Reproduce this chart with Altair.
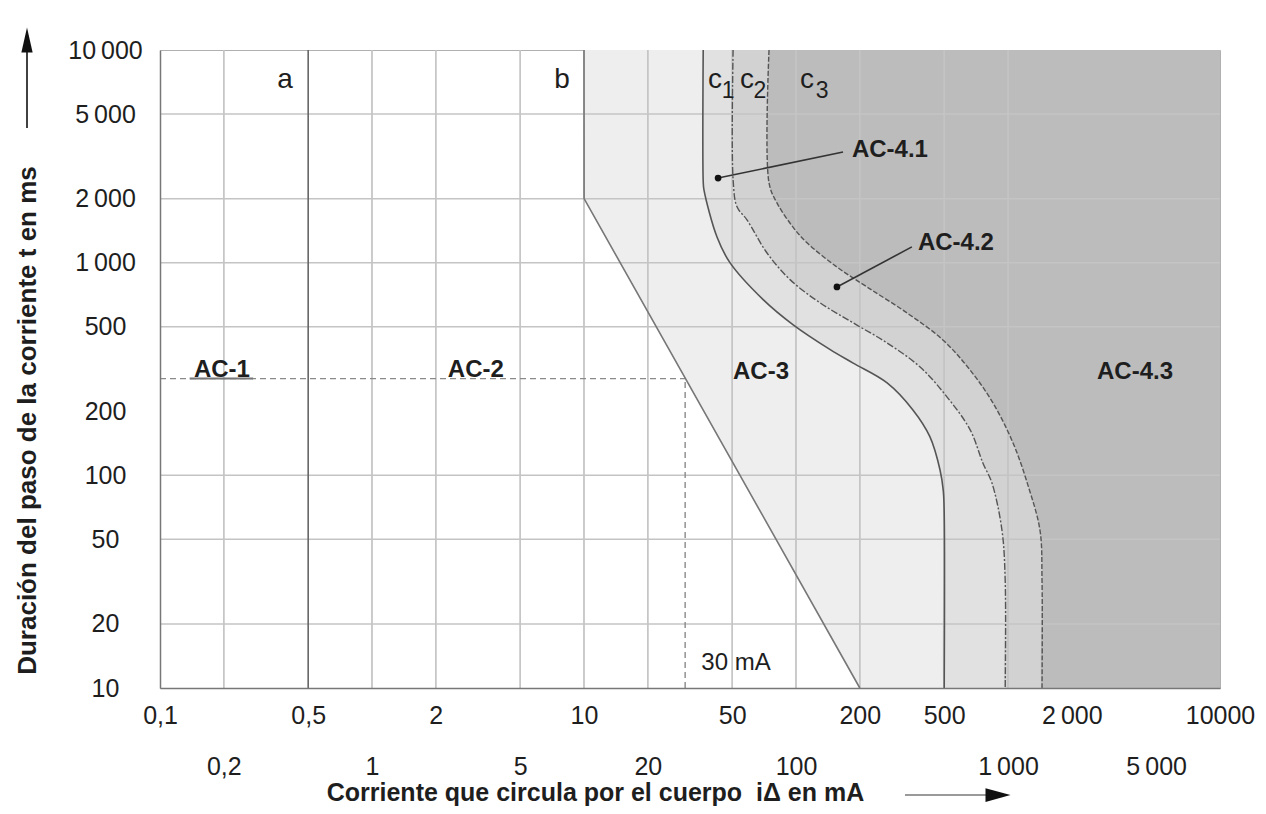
import altair as alt
import pandas as pd

FONT = "Liberation Sans"
TXT = "#1e1e1e"

# ---------------- axis ticks / labels ----------------
y_ticks = [10, 20, 50, 100, 200, 500, 1000, 2000, 5000, 10000]
y_tick_labels = ["10", "20", "50", "100", "200", "500", "1\u2009000", "2\u2009000", "5\u2009000", "10\u2009000"]
x_ticks_row1 = [0.1, 0.5, 2, 10, 50, 200, 500, 2000, 10000]
x_labels_row1 = ["0,1", "0,5", "2", "10", "50", "200", "500", "2\u2009000", "10000"]
x_ticks_row2 = [0.2, 1, 5, 20, 100, 1000, 5000]
x_labels_row2 = ["0,2", "1", "5", "20", "100", "1\u2009000", "5\u2009000"]

x_grid = [0.2, 1, 2, 5, 10, 20, 50, 100, 200, 500, 1000]
y_grid = [20, 50, 100, 500, 1000, 2000, 5000]

# ---------------- curves (current mA, time ms) ----------------
a_x = [0.5, 0.5]
a_t = [10000, 10]
b_x = [10, 10.01, 200]
b_t = [10000, 2000, 10]
c1_x = [36.5, 36.51, 36.8, 42.4, 48.8, 70, 97, 145, 186, 269, 356, 428, 478, 495, 500, 500.1]
c1_t = [10000, 2400, 2200, 1320, 1000, 670, 510, 390, 337, 272, 203, 152, 106, 85, 67, 10]
c2_x = [50.5, 50.51, 52.7, 58.7, 73, 94, 130, 186, 269, 385, 515, 662, 762, 840, 937, 970, 970.1]
c2_t = [10000, 2450, 1830, 1590, 1110, 830, 647, 521, 419, 323, 234, 164, 114, 92, 55, 32, 10]
c3_x = [74.6, 74.61, 81.3, 96.8, 112.7, 156, 216, 334, 493, 662, 849, 1056, 1250, 1416, 1447, 1447.1]
c3_t = [10000, 2370, 1910, 1470, 1240, 954, 769, 580, 433, 313, 219, 142, 88, 55, 32, 10]

X_MIN, X_MAX = 0.1, 10000
T_MIN, T_MAX = 10, 10000

# 30 mA reference lines
ref_current = 30
ref_time = 285
ac1_underline = [0.138, 0.275]

# leaders (dot x, dot t, end x, end t)
lead_x0 = [42.9, 156]
lead_t0 = [2500, 769]
lead_x1 = [166.7, 352]
lead_t1 = [3311, 1186]

# zone labels
zone_text = ["AC-1", "AC-2", "AC-3", "AC-4.3"]
zone_x = [0.196, 3.09, 68.4, 3972]
zone_t = [313, 313, 306, 306]
zone2_text = ["AC-4.1", "AC-4.2"]
zone2_x = [183.6, 376]
zone2_t = [3388, 1237]
letter_text = ["a", "b", "c", "c", "c"]
letter_x = [0.389, 7.87, 41.5, 58.7, 112.7]
letter_t = [7230, 7230, 7230, 7230, 7230]
sub_text = ["1", "2", "3"]
sub_x = [47.8, 67.6, 132.7]
sub_t = [6400, 6400, 6400]
ma_text = ["30 mA"]
ma_x = [52.1]
ma_t = [13.1]

C_AC3 = "#eeeeee"
C_AC41 = "#e1e1e1"
C_AC42 = "#d2d2d2"
C_AC43 = "#bcbcbc"
C_LINE = "#666666"


def label_expr(vals, labs):
    expr = "''"
    for v, l in reversed(list(zip(vals, labs))):
        expr = f"datum.value == {v} ? '{l}' : ({expr})"
    return expr


def curve_df(xs_, ts_):
    return pd.DataFrame({"x": xs_, "t": ts_, "i": list(range(len(xs_)))})


def zone_df(xs_, ts_):
    # region right of / above a curve, closed along the bottom edge to the right border
    x = list(xs_) + [xs_[-1] * 1.01, X_MAX]
    t = list(ts_) + [T_MIN, T_MIN]
    return pd.DataFrame({"x": x, "t": t, "top": [T_MAX] * len(x)})


xs = alt.Scale(type="log", domain=[X_MIN, X_MAX], nice=False)
ys = alt.Scale(type="log", domain=[T_MIN, T_MAX], nice=False)

x_axis1 = alt.Axis(values=x_ticks_row1, labelExpr=label_expr(x_ticks_row1, x_labels_row1),
                   ticks=False, grid=False, domainColor="#777777", domainWidth=1.5,
                   labelPadding=27, labelBaseline="middle", labelFontSize=25, labelFont=FONT,
                   labelColor=TXT, labelFlush=False, labelOverlap=False, title=None,
                   orient="bottom", zindex=1)
x_axis2 = alt.Axis(values=x_ticks_row2, labelExpr=label_expr(x_ticks_row2, x_labels_row2),
                   ticks=False, grid=False, domain=False,
                   labelPadding=78, labelBaseline="middle", labelFontSize=25, labelFont=FONT,
                   labelColor=TXT, labelFlush=False, labelOverlap=False,
                   title="Corriente que circula por el cuerpo \u00a0i\u0394 en mA",
                   titleFont=FONT, titleFontSize=25, titleFontWeight="bold", titleColor=TXT,
                   titlePadding=1, titleX=435, orient="bottom", zindex=1)
y_axis = alt.Axis(values=y_ticks, labelExpr=label_expr(y_ticks, y_tick_labels),
                  ticks=False, grid=False, domainColor="#777777", domainWidth=1.5,
                  labelAlign="center", labelPadding=55, labelBaseline="middle",
                  labelFontSize=25, labelFont=FONT, labelColor=TXT, labelOverlap=False,
                  labelFlush=False,
                  title="Duración del paso de la corriente t en ms", titleFont=FONT,
                  titleFontSize=26, titleFontWeight="bold", titleColor=TXT,
                  titleX=-133, titleY=370, titleAngle=270, titleAlign="center",
                  titleBaseline="middle", orient="left", zindex=1)


def X(field, axis=None):
    return alt.X(field, type="quantitative", scale=xs, axis=axis)


def Y(field):
    # same axis definition in every layer so that the shared y axis merges cleanly
    return alt.Y(field, type="quantitative", scale=ys, axis=y_axis)


def area(xs_, ts_, color, interp):
    return alt.Chart(zone_df(xs_, ts_)).mark_area(color=color, interpolate=interp, opacity=1,
                                                  clip=True).encode(
        x=X("x"), y=Y("t"), y2=alt.Y2("top"))


def line(xs_, ts_, interp, dash=None, width=1.6, color=C_LINE):
    kw = dict(color=color, strokeWidth=width, interpolate=interp)
    if dash:
        kw["strokeDash"] = dash
    return alt.Chart(curve_df(xs_, ts_)).mark_line(**kw).encode(
        x=X("x"), y=Y("t"), order=alt.Order("i:Q"))


area_b = area(b_x, b_t, C_AC3, "linear")
area_c1 = area(c1_x, c1_t, C_AC41, "catmull-rom")
area_c2 = area(c2_x, c2_t, C_AC42, "catmull-rom")
area_c3 = area(c3_x, c3_t, C_AC43, "catmull-rom")

grid_x = alt.Chart(pd.DataFrame({"v": x_grid})).mark_rule(color="#c4c4c4", strokeWidth=1.3).encode(
    x=X("v", x_axis1))
grid_x2 = alt.Chart(pd.DataFrame({"v": x_grid})).mark_rule(color="#c4c4c4", strokeWidth=1.3).encode(
    x=X("v", x_axis2))
grid_y = alt.Chart(pd.DataFrame({"v": y_grid})).mark_rule(color="#c4c4c4", strokeWidth=1.5).encode(
    y=Y("v"))

dash_h = alt.Chart(pd.DataFrame({"x0": [X_MIN], "x1": [ref_current], "t": [ref_time]})).mark_rule(
    color="#8a8a8a", strokeWidth=1.4, strokeDash=[6, 4]).encode(x=X("x0"), x2=alt.X2("x1"), y=Y("t"))
dash_v = alt.Chart(pd.DataFrame({"x": [ref_current], "t0": [T_MIN], "t1": [ref_time]})).mark_rule(
    color="#8a8a8a", strokeWidth=1.4, strokeDash=[6, 4]).encode(x=X("x"), y=Y("t0"), y2=alt.Y2("t1"))
underline = alt.Chart(pd.DataFrame({"x0": [ac1_underline[0]], "x1": [ac1_underline[1]], "t": [ref_time]})).mark_rule(
    color="#777777", strokeWidth=2).encode(x=X("x0"), x2=alt.X2("x1"), y=Y("t"))

line_a = line(a_x, a_t, "linear", width=1.6)
line_b = line(b_x, b_t, "linear", width=1.6, color="#777777")
line_c1 = line(c1_x, c1_t, "catmull-rom", width=1.6, color="#555555")
line_c2 = line(c2_x, c2_t, "catmull-rom", dash=[7, 2, 2, 2], width=1.4, color="#555555")
line_c3 = line(c3_x, c3_t, "catmull-rom", dash=[5, 2], width=1.4, color="#555555")

lead_df = pd.DataFrame({"x0": lead_x0, "t0": lead_t0, "x1": lead_x1, "t1": lead_t1})
leaders = alt.Chart(lead_df).mark_rule(color="#333333", strokeWidth=1.6).encode(
    x=X("x0"), y=Y("t0"), x2=alt.X2("x1"), y2=alt.Y2("t1"))
dots = alt.Chart(lead_df).mark_point(filled=True, color="#111111", size=45, opacity=1).encode(
    x=X("x0"), y=Y("t0"))


def texts(tx, xv, tv, size, weight="normal", align="center"):
    df = pd.DataFrame({"x": xv, "t": tv, "s": tx})
    return alt.Chart(df).mark_text(font=FONT, fontSize=size, fontWeight=weight, align=align,
                                   baseline="middle", color=TXT).encode(x=X("x"), y=Y("t"), text="s:N")


t_zone = texts(zone_text, zone_x, zone_t, 24, "bold")
t_zone2 = texts(zone2_text, zone2_x, zone2_t, 24, "bold", "left")
t_letters = texts(letter_text, letter_x, letter_t, 28)
t_subs = texts(sub_text, sub_x, sub_t, 23)
t_ma = texts(ma_text, ma_x, ma_t, 24)

one = pd.DataFrame({"k": [0]})
y_arrow_line = alt.Chart(one).mark_rule(color="#111111", strokeWidth=1.6).encode(
    x=alt.value(-133), y=alt.value(-2), y2=alt.value(78))
y_arrow_head = alt.Chart(one).mark_point(shape="M-0.45,1L0,-1L0.45,1Z", filled=True, color="#111111",
                                         size=625, opacity=1).encode(x=alt.value(-133), y=alt.value(-10))
x_arrow_line = alt.Chart(one).mark_rule(color="#9a9a9a", strokeWidth=2).encode(
    x=alt.value(745), x2=alt.value(828), y=alt.value(745))
x_arrow_head = alt.Chart(one).mark_point(shape="M-1,-0.55L1,0L-1,0.55Z", filled=True, color="#111111",
                                         size=625, opacity=1).encode(x=alt.value(838), y=alt.value(745))

chart = alt.layer(
    area_b, area_c1, area_c2, area_c3,
    grid_x, grid_x2, grid_y,
    dash_h, dash_v, underline,
    line_a, line_b, line_c1, line_c2, line_c3,
    leaders, dots,
    t_zone, t_zone2, t_letters, t_subs, t_ma,
    y_arrow_line, y_arrow_head, x_arrow_line, x_arrow_head,
).resolve_axis(x="independent").properties(
    width=1060, height=638,
    autosize=alt.AutoSizeParams(type="none"),
    padding={"left": 152, "top": 42, "right": 38, "bottom": 118},
    background="white",
).configure_view(stroke="#b0b0b0", strokeWidth=1)

chart.save("out.html", embed_options={"renderer": "svg", "actions": False})
